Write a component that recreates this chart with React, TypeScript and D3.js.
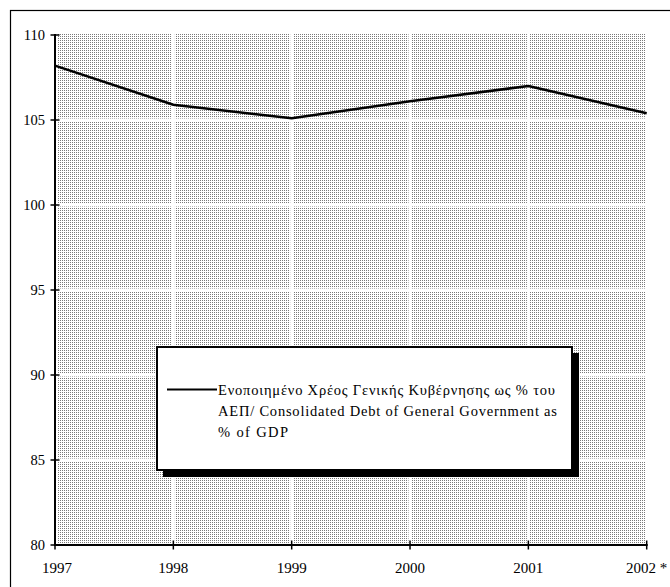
import React from "react";
import * as d3 from "d3";

const years = [1997, 1998, 1999, 2000, 2001, 2002];
const yearLabels = ["1997", "1998", "1999", "2000", "2001", "2002 *"];
const debtValues = [108.2, 105.9, 105.1, 106.1, 107.0, 105.4];
const yTicks = [80, 85, 90, 95, 100, 105, 110];
const legendLines = [
  "Ενοποιημένο Χρέος Γενικής Κυβέρνησης ως % του",
  "ΑΕΠ/ Consolidated Debt of General Government as",
  "% of GDP",
];

export default function App() {
  const W = 670;
  const H = 587;
  const x = d3.scaleLinear().domain([1997, 2002]).range([55, 646.7]);
  const y = d3.scaleLinear().domain([80, 110]).range([545, 35]);
  const line = d3
    .line<number>()
    .x((_, i) => x(years[i]))
    .y((d) => y(d));
  const font = "'Liberation Serif', 'Times New Roman', serif";
  const legendWidths = [337, 339, 70];

  return (
    <svg
      width={W}
      height={H}
      style={{ position: "absolute", left: 0, top: 0, background: "#fff" }}
    >
      <defs>
        <pattern id="dots" width={2} height={2} patternUnits="userSpaceOnUse">
          <rect x={0} y={0} width={2} height={2} fill="#ffffff" shapeRendering="crispEdges" />
          <rect x={0} y={0} width={1} height={1} fill="#7a7a7a" shapeRendering="crispEdges" />
        </pattern>
      </defs>
      <rect x={10.5} y={10.5} width={700} height={700} fill="none" stroke="#000" strokeWidth={1.2} />
      {/* plot background */}
      <rect
        x={x(1997) + 2}
        y={y(110) - 1}
        width={x(2002) - x(1997) - 3}
        height={y(80) - y(110) - 1}
        fill="url(#dots)"
        shapeRendering="crispEdges"
      />
      {/* white gridlines */}
      {years.slice(1, -1).map((yr) => (
        <line key={"vg" + yr} x1={x(yr)} x2={x(yr)} y1={y(110) - 2} y2={y(80)} stroke="#fff" strokeWidth={3} />
      ))}
      {yTicks.slice(1, -1).map((t) => (
        <line key={"hg" + t} x1={x(1997)} x2={x(2002)} y1={y(t)} y2={y(t)} stroke="#fff" strokeWidth={3} />
      ))}
      {/* axes */}
      <line x1={x(1997)} x2={x(1997)} y1={y(110) - 1} y2={y(80) + 1} stroke="#000" strokeWidth={2} />
      <line x1={x(1997) - 1} x2={x(2002) + 1} y1={y(80)} y2={y(80)} stroke="#000" strokeWidth={2} />
      {yTicks.map((t) => (
        <g key={"yt" + t}>
          <line x1={x(1997) - 4.5} x2={x(1997) + 4.5} y1={y(t)} y2={y(t)} stroke="#000" strokeWidth={1.5} />
          <text x={x(1997) - 10} y={y(t) + 5} textAnchor="end" fontFamily={font} fontSize={14.5} fill="#000">
            {t}
          </text>
        </g>
      ))}
      {years.map((yr, i) => (
        <g key={"xt" + yr}>
          <line x1={x(yr)} x2={x(yr)} y1={y(80) - 4.5} y2={y(80) + 4.5} stroke="#000" strokeWidth={1.5} />
          <text x={x(yr) + (i === 0 ? 2 : 0)} y={y(80) + 27.5} textAnchor="middle" fontFamily={font} fontSize={15} fill="#000">
            {yearLabels[i]}
          </text>
        </g>
      ))}
      {/* data line */}
      <path d={line(debtValues) || ""} fill="none" stroke="#000" strokeWidth={2.5} strokeLinejoin="round" />
      {/* legend */}
      <rect x={163} y={353} width={416} height={124} fill="#000" />
      <rect x={157} y={347} width={415} height={123} fill="#fff" stroke="#000" strokeWidth={2} />
      <line x1={167} x2={217} y1={389.5} y2={389.5} stroke="#000" strokeWidth={2} />
      {legendLines.map((s, i) => (
        <text
          key={"lg" + i}
          x={218}
          y={395 + i * 21}
          fontFamily={font}
          fontSize={14.5}
          fill="#000"
          textLength={legendWidths[i]}
          lengthAdjust="spacing"
        >
          {s}
        </text>
      ))}
    </svg>
  );
}
